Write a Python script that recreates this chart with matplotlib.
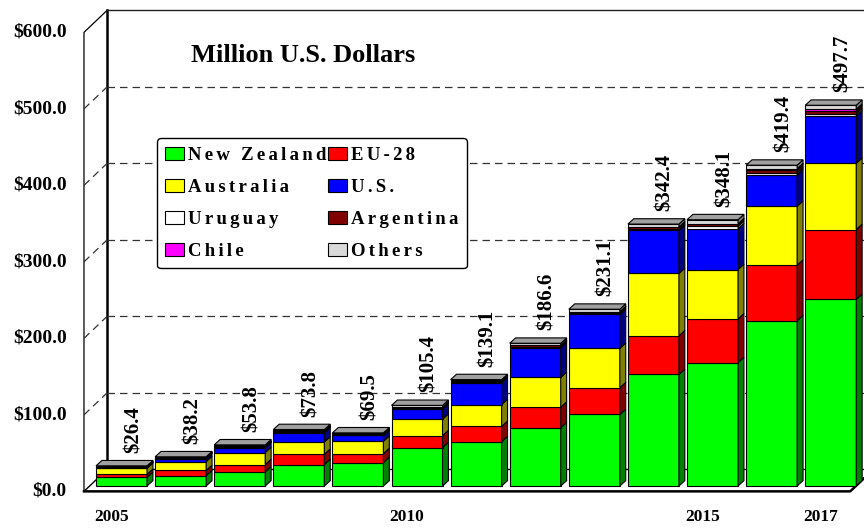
import matplotlib.pyplot as plt
from matplotlib.patches import Polygon, Patch

plt.rcParams['font.family'] = ['Liberation Serif', 'DejaVu Serif']
plt.rcParams['font.weight'] = 'bold'
plt.rcParams['text.parse_math'] = False

years = ['2005', '2006', '2007', '2008', '2009', '2010', '2011',
         '2012', '2013', '2014', '2015', '2016', '2017']
year_labels = ['2005', '', '', '', '', '2010', '', '', '', '', '2015', '', '2017']

# million US dollars, stacked from the bottom up
new_zealand = [11.3, 13.4, 18.6, 28.1, 30.7, 50.2, 58.0, 76.2, 93.5, 145.8, 161.4, 216.0, 244.0]
eu28 = [3.9, 6.9, 9.5, 13.4, 11.7, 15.6, 19.9, 26.8, 35.0, 50.6, 57.1, 72.7, 91.3]
australia = [7.8, 11.7, 15.6, 16.0, 16.0, 21.6, 28.6, 39.0, 51.5, 81.4, 64.5, 77.0, 86.6]
us = [1.0, 3.5, 6.5, 12.1, 7.8, 13.0, 28.6, 39.0, 44.2, 56.3, 53.2, 41.1, 62.0]
uruguay = [0.3, 0.4, 0.5, 0.6, 0.5, 0.8, 0.6, 0.8, 1.8, 1.5, 3.5, 2.5, 2.8]
argentina = [0.6, 0.8, 1.0, 1.2, 0.9, 1.4, 1.2, 2.0, 1.5, 2.5, 2.5, 4.0, 4.0]
chile = [0.1, 0.1, 0.1, 0.2, 0.1, 0.2, 0.2, 0.2, 0.3, 0.5, 0.7, 1.5, 1.8]
others = [1.4, 1.4, 2.0, 2.2, 1.8, 2.6, 2.0, 2.6, 3.3, 3.8, 5.2, 4.6, 5.2]
totals = [26.4, 38.2, 53.8, 73.8, 69.5, 105.4, 139.1, 186.6, 231.1, 342.4, 348.1, 419.4, 497.7]

y_ticks = [0, 100, 200, 300, 400, 500, 600]

series = [
    ('New Zealand', new_zealand, '#00FF00', '#008000'),
    ('EU-28', eu28, '#FF0000', '#800000'),
    ('Australia', australia, '#FFFF00', '#808000'),
    ('U.S.', us, '#0000FF', '#000080'),
    ('Uruguay', uruguay, '#FFFFFF', '#808080'),
    ('Argentina', argentina, '#800000', '#400000'),
    ('Chile', chile, '#FF00FF', '#800080'),
    ('Others', others, '#D9D9D9', '#808080'),
]

fig = plt.figure(figsize=(8.64, 5.29), dpi=100)
ax = fig.add_axes([0, 0, 1, 1])
ax.set_xlim(-2.056, 12.563)
ax.set_ylim(-56.2, 635.3)
ax.axis('off')

# wall geometry (front plane sits a bit below the bars, back wall is pushed up-right)
xf, xb = -0.635, -0.246
front_off, back_off = -7, 21.6
x_right = 12.33
wall_dx = xb - xf

# floor
ax.plot([xf, x_right, x_right + wall_dx], [front_off, front_off, back_off], color='black', lw=1.8, zorder=2)
ax.plot([xf, xb, 13.0], [front_off, back_off, back_off], color='black', lw=1.0, zorder=1)

# left and back wall edges
ax.plot([xf, xf, xb], [front_off, 600 + front_off, 600 + back_off], color='black', lw=0.9, zorder=1)
ax.plot([xb, xb], [back_off, 600 + back_off], color='black', lw=1.8, zorder=1)
ax.plot([xb, 13.0], [600 + back_off, 600 + back_off], color='#222222', lw=1.0, zorder=1)

# dashed gridlines on the side and back walls
for g in y_ticks[1:-1]:
    ax.plot([xf, xb], [g + front_off, g + back_off], color='#333333', lw=0.9,
            linestyle=(0, (6, 4)), zorder=1)
    ax.plot([xb, 13.0], [g + back_off, g + back_off], color='#333333', lw=0.9,
            linestyle=(0, (6, 4)), zorder=1)

for g in y_ticks:
    ax.text(-0.928, g + front_off, '$%.1f' % g, ha='right', va='center', fontsize=14)

# 3D stacked bars
xs = list(range(len(years)))
w = 0.863
bdx, bdy = 0.1, 7.0
bottoms = [0.0] * len(years)
for name, vals, fc, sc in series:
    ax.bar(xs, vals, bottom=bottoms, width=w, color=fc, edgecolor='black', linewidth=0.8, zorder=3)
    for i, (b, h) in enumerate(zip(bottoms, vals)):
        xr = xs[i] + w / 2
        side = Polygon([(xr, b), (xr + bdx, b + bdy), (xr + bdx, b + h + bdy), (xr, b + h)],
                       closed=True, facecolor=sc, edgecolor='black', linewidth=0.8, zorder=3)
        ax.add_patch(side)
    bottoms = [b + v for b, v in zip(bottoms, vals)]

for i, t in enumerate(bottoms):
    xl, xr = xs[i] - w / 2, xs[i] + w / 2
    top = Polygon([(xl, t), (xl + bdx, t + bdy), (xr + bdx, t + bdy), (xr, t)],
                  closed=True, facecolor='#A0A0A0', edgecolor='black', linewidth=0.8, zorder=4)
    ax.add_patch(top)
    ax.text(xs[i] + 0.2, t + 17, '$%.1f' % totals[i], rotation=90, ha='center', va='bottom',
            fontsize=15, zorder=5)

for i, lab in enumerate(year_labels):
    ax.text(xs[i] - 0.17, -40.5, lab, ha='center', va='center', fontsize=12.5)

ax.text(1.176, 563, 'Million U.S. Dollars', ha='left', va='center', fontsize=19)

# legend, filled column by column; letters spaced out with hair spaces
order = [0, 2, 4, 6, 1, 3, 5, 7]
handles = [Patch(facecolor=series[k][2], edgecolor='black', linewidth=0.8) for k in order]
labels = ['\u200a\u200a'.join(series[k][0]) for k in order]
leg = ax.legend(handles, labels, ncol=2, loc='upper left', bbox_to_anchor=(0.1817, 0.739),
                fontsize=13.5, frameon=True, fancybox=True, edgecolor='black',
                handlelength=1.0, handleheight=0.75, handletextpad=0.2,
                columnspacing=0.1, labelspacing=0.78, borderpad=0.45, borderaxespad=0)
leg.get_frame().set_linewidth(1.0)
leg.get_frame().set_alpha(1)
leg.set_zorder(6)

fig.savefig('out.png', dpi=100)
